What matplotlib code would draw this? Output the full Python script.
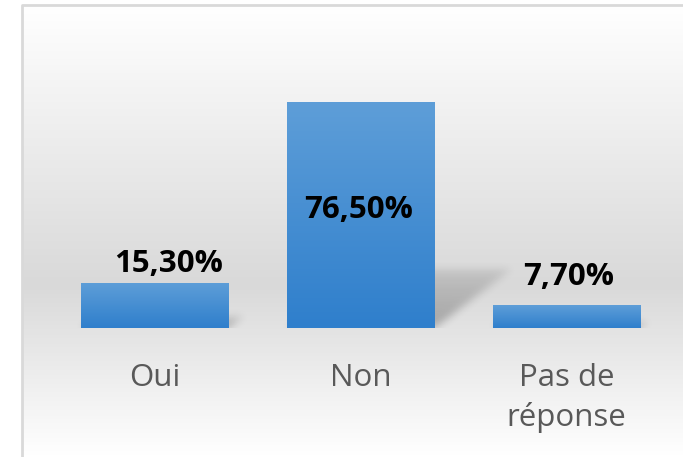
import numpy as np
import matplotlib.pyplot as plt
from matplotlib.colors import LinearSegmentedColormap

categories = ["Oui", "Non", "Pas de\nréponse"]
values = [15.3, 76.5, 7.7]
labels = ["15,30%", "76,50%", "7,70%"]

plt.rcParams['font.family'] = ['Open Sans', 'DejaVu Sans']

W, H = 683, 457
fig = plt.figure(figsize=(W / 100, H / 100), dpi=100)

# background of the chart area: white -> grey -> white, with a thin border
bg = fig.add_axes([0, 0, 1, 1], zorder=-5)
bg.set_xlim(0, W)
bg.set_ylim(H, 0)
bg.axis('off')
bg_cmap = LinearSegmentedColormap.from_list(
    "bg", [(0, "#ffffff"), (0.62, "#d9d9d9"), (1, "#ffffff")])
grad = np.linspace(0, 1, 300).reshape(-1, 1)
bg.imshow(grad, cmap=bg_cmap, extent=[22, W, H, 5], aspect='auto',
          vmin=0, vmax=1)
bg.plot([22, 22, W], [H, 5, 5], color="#d9d9d9", lw=2, solid_capstyle='butt')

# main axes
AW, AH = 618, 266
ax = fig.add_axes([51.5 / W, 129 / H, AW / W, AH / H])
ax.patch.set_alpha(0)
ax.set_xlim(-0.5, 2.5)
ax.set_ylim(0, 90)
for s in ax.spines.values():
    s.set_visible(False)
ax.set_yticks([])

x = np.arange(len(values))
bars = ax.bar(x, values, width=0.714, color='none', zorder=3)

bar_cmap = LinearSegmentedColormap.from_list("bar", ["#2f7fcc", "#5e9ed8"])
px = AW / 3.0    # pixels per x unit
py = AH / 90.0   # pixels per y unit

# perspective shadows, rasterised and blurred
shadow = np.zeros((AH, AW))
rows = np.arange(AH)[:, None] + 0.5
cols = np.arange(AW)[None, :] + 0.5
for b in bars:
    x0 = (b.get_x() + 0.5) * px
    x1 = x0 + b.get_width() * px
    hp = b.get_height() * py
    sh_h = 0.26 * hp
    sh_dx = 0.34 * hp
    t = rows / sh_h
    left = x0 + t * sh_dx
    right = x1 + t * sh_dx
    inside = (t <= 1) & (cols >= left) & (cols <= right)
    dens = np.clip(1.15 - 0.75 * t, 0, 1)
    shadow = np.maximum(shadow, inside * dens)

sig = 4.0
k = np.arange(-12, 13)
kern = np.exp(-0.5 * (k / sig) ** 2)
kern /= kern.sum()
shadow = np.apply_along_axis(lambda r: np.convolve(r, kern, mode='same'), 1, shadow)
shadow = np.apply_along_axis(lambda c: np.convolve(c, kern, mode='same'), 0, shadow)
rgba = np.zeros((AH, AW, 4))
rgba[..., 3] = 0.24 * np.clip(shadow, 0, 1)
ax.imshow(rgba, extent=[-0.5, 2.5, 0, 90], origin='lower', aspect='auto',
          zorder=2, interpolation='bilinear')

for b in bars:
    x0, y0 = b.get_x(), b.get_y()
    w, h = b.get_width(), b.get_height()
    im = ax.imshow(np.linspace(0, 1, 100).reshape(-1, 1), cmap=bar_cmap,
                   extent=[x0, x0 + w, y0, y0 + h], origin='lower',
                   aspect='auto', zorder=3)
    im.set_clip_path(b)

ax.set_xlim(-0.5, 2.5)
ax.set_ylim(0, 90)

# data labels
offsets = [(14.5, 11), (-2, -116), (2, 20)]
for b, lab, (dx, dy) in zip(bars, labels, offsets):
    ax.annotate(lab, (b.get_x() + b.get_width() / 2, b.get_height()),
                xytext=(dx, dy), textcoords='offset pixels',
                ha='center', va='baseline', fontsize=22.5,
                fontweight='bold', color='black', zorder=5)

ax.set_xticks(x)
ax.set_xticklabels(categories, fontsize=22.5, color='#595959',
                   linespacing=1.35)
ax.tick_params(axis='x', length=0, pad=25.5)

fig.savefig("out.png", dpi=100)
